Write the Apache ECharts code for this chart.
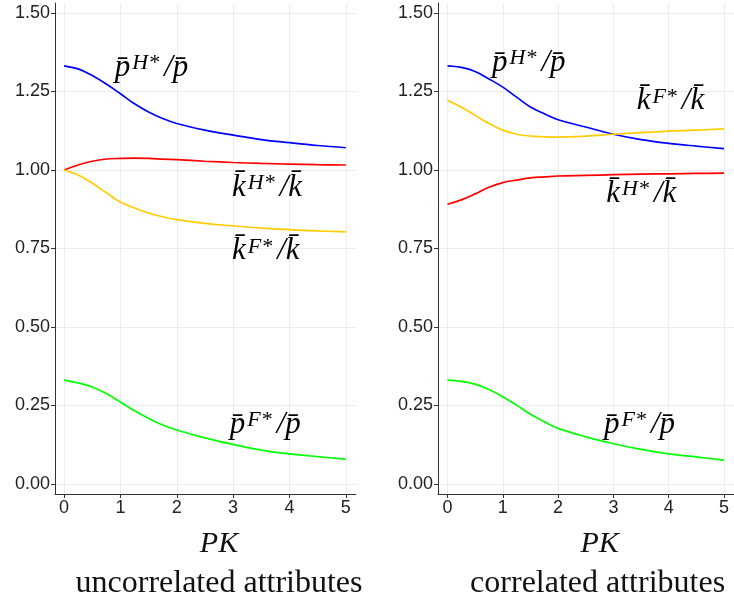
<!DOCTYPE html>
<html>
<head>
<meta charset="utf-8">
<script src="https://cdn.jsdelivr.net/npm/echarts@6/dist/echarts.min.js"></script>
<style>
html,body{margin:0;padding:0;background:#fff;}
#c{width:734px;height:601px;}
</style>
</head>
<body>
<div id="c"></div>
<script>
// ---- data ----
const pk = [0, 0.25, 0.5, 0.75, 1, 1.25, 1.5, 1.75, 2, 2.5, 3, 3.5, 4, 4.5, 5];
const xTicks = [0, 1, 2, 3, 4, 5];
const yTicks = [0, 0.25, 0.5, 0.75, 1, 1.25, 1.5];

// uncorrelated attributes
const uncPH = [1.332,1.322,1.301,1.274,1.243,1.211,1.185,1.164,1.148,1.127,1.111,1.097,1.087,1.078,1.071];
const uncKH = [1.000,1.016,1.028,1.035,1.037,1.038,1.037,1.035,1.033,1.028,1.024,1.021,1.019,1.017,1.016];
const uncKF = [1.000,0.984,0.958,0.928,0.898,0.879,0.863,0.851,0.842,0.830,0.822,0.815,0.810,0.806,0.803];
const uncPF = [0.331,0.322,0.309,0.288,0.261,0.233,0.209,0.188,0.172,0.147,0.126,0.108,0.096,0.087,0.079];

// correlated attributes
const corPH = [1.332,1.327,1.314,1.290,1.264,1.232,1.201,1.179,1.160,1.137,1.114,1.097,1.085,1.076,1.068];
const corKF = [1.222,1.200,1.174,1.148,1.127,1.114,1.108,1.106,1.105,1.108,1.114,1.119,1.124,1.127,1.131];
const corKH = [0.891,0.905,0.924,0.945,0.960,0.968,0.975,0.978,0.981,0.983,0.985,0.987,0.988,0.989,0.990];
const corPF = [0.331,0.327,0.318,0.301,0.278,0.251,0.222,0.198,0.177,0.150,0.128,0.110,0.096,0.086,0.076];

const panelTitles = ['uncorrelated attributes', 'correlated attributes'];
const xName = 'PK';

// curve labels: [panel, base letter, superscript, x (data), y (data)]
const curveLabels = [
  [0, 'p', 'H*', 0.90, 1.318],
  [0, 'k', 'H*', 2.98, 0.936],
  [0, 'k', 'F*', 2.98, 0.733],
  [0, 'p', 'F*', 2.94, 0.180],
  [1, 'p', 'H*', 0.805, 1.334],
  [1, 'k', 'F*', 3.42, 1.211],
  [1, 'k', 'H*', 2.87, 0.915],
  [1, 'p', 'F*', 2.83, 0.180]
];

const COLORS = {ph:'#0000ff', kh:'#ff0000', kf:'#ffcc00', pf:'#00ff00'};

// ---- chart ----
const chart = echarts.init(document.getElementById('c'), null, {renderer:'canvas'});
const gridLine = '#e6eef0';
const axisCol = '#333';
const sans = 'Liberation Sans';
const serif = 'Liberation Serif';

function xAxis(idx, min){
  return {
    type:'value', gridIndex:idx, min:min, max:5.18,
    axisLine:{show:true, onZero:false, lineStyle:{color:axisCol, width:1}},
    axisTick:{show:true, length:4, customValues:xTicks, lineStyle:{color:axisCol}},
    axisLabel:{customValues:xTicks, margin:5, fontFamily:sans, fontSize:18, color:'#222'},
    splitLine:{show:true, lineStyle:{color:gridLine, width:1}}
  };
}
function yAxis(idx){
  return {
    type:'value', gridIndex:idx, min:-0.032, max:1.532,
    axisLine:{show:true, onZero:false, lineStyle:{color:axisCol, width:1}},
    axisTick:{show:true, length:4, customValues:yTicks, lineStyle:{color:axisCol}},
    axisLabel:{customValues:yTicks, margin:5, fontFamily:sans, fontSize:18, color:'#222',
      formatter:function(v){return v.toFixed(2);}},
    splitLine:{show:true, lineStyle:{color:gridLine, width:1}}
  };
}
function line(idx, ys, color){
  return {
    type:'line', xAxisIndex:idx, yAxisIndex:idx,
    data: pk.map(function(x,i){return [x, ys[i]];}),
    showSymbol:false, smooth:0.4, silent:true,
    lineStyle:{color:color, width:1.7}, z:3
  };
}

chart.setOption({
  animation:false,
  backgroundColor:'#fff',
  grid:[
    {left:55, top:3, width:301, height:491},
    {left:438, top:3, width:301, height:491}
  ],
  xAxis:[xAxis(0,-0.16), xAxis(1,-0.172)],
  yAxis:[yAxis(0), yAxis(1)],
  series:[
    line(0, uncPH, COLORS.ph), line(0, uncKH, COLORS.kh), line(0, uncKF, COLORS.kf), line(0, uncPF, COLORS.pf),
    line(1, corPH, COLORS.ph), line(1, corKF, COLORS.kf), line(1, corKH, COLORS.kh), line(1, corPF, COLORS.pf)
  ]
});

// annotations positioned from data coordinates
const graphics = [];
curveLabels.forEach(function(l){
  const p = chart.convertToPixel({gridIndex:l[0]}, [l[3], l[4]]);
  const base = l[1] + '\u0304';
  graphics.push({
    type:'text', left:p[0], top:p[1]-18, z:10, silent:true,
    style:{
      text:'{m|' + base + '}{s|' + l[2] + '}{m|/' + base + '}',
      rich:{
        m:{fontFamily:serif, fontStyle:'italic', fontSize:31, color:'#111', verticalAlign:'middle'},
        s:{fontFamily:serif, fontStyle:'italic', fontSize:22, color:'#111', verticalAlign:'top', padding:[0,5,0,2]}
      }
    }
  });
});
[0,1].forEach(function(g){
  const c = chart.convertToPixel({gridIndex:g}, [2.75, 0]);
  graphics.push({
    type:'text', x:c[0], y:559, silent:true,
    style:{text:xName, fontFamily:serif, fontStyle:'italic', fontSize:30, fill:'#111',
      align:'center', verticalAlign:'bottom'}
  });
  graphics.push({
    type:'text', x:c[0] - (g === 1 ? 2 : 0), y:600, silent:true,
    style:{text:panelTitles[g], fontFamily:serif, fontSize:32, fill:'#111',
      align:'center', verticalAlign:'bottom'}
  });
});
chart.setOption({graphic:graphics});
</script>
</body>
</html>
